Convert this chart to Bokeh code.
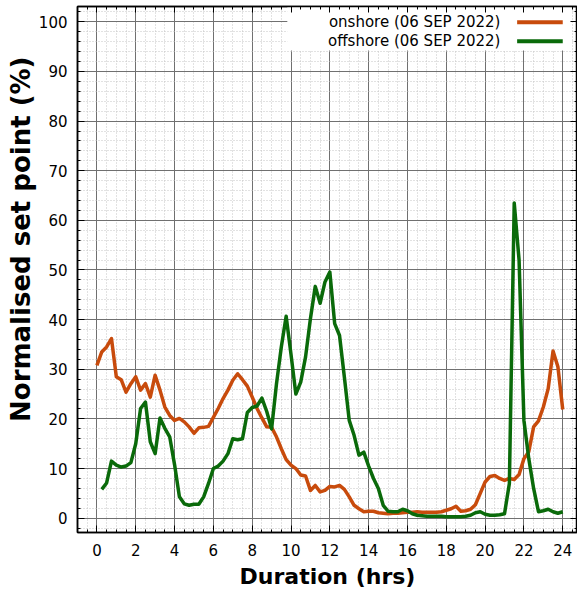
from bokeh.plotting import figure
from bokeh.models import (Range1d, LinearAxis, SingleIntervalTicker, FixedTicker,
                          BoxAnnotation, Label, Arrow, Title)
from bokeh.embed import file_html
from bokeh.resources import INLINE

# ---------------- data ----------------
STEP_HRS = 0.25
ONSHORE_START = 0.0
OFFSHORE_START = 0.25

onshore = [
    30.8, 33.5, 34.5, 36.2,
    28.5, 27.9, 25.4, 27.1,
    28.5, 25.8, 27.1, 24.4,
    28.8, 25.8, 22.4, 20.7,
    19.7, 20.1, 19.4, 18.4,
    17.1, 18.2, 18.3, 18.5,
    20.3, 22.1, 24.1, 25.8,
    27.8, 29.1, 27.9, 26.6,
    24.4, 22.1, 20.2, 18.4,
    18.3, 16.4, 14.0, 11.8,
    10.7, 10.0, 8.7, 8.5,
    5.6, 6.6, 5.3, 5.6,
    6.4, 6.3, 6.6, 5.8,
    4.3, 2.6, 1.9, 1.3,
    1.4, 1.4, 1.1, 1.0,
    0.9, 1.0, 1.0, 1.1,
    1.2, 1.2, 1.3, 1.2,
    1.2, 1.2, 1.2, 1.3,
    1.6, 1.9, 2.4, 1.4,
    1.5, 1.8, 2.7, 5.0,
    7.3, 8.4, 8.6, 8.0,
    7.6, 8.0, 7.8, 8.8,
    12.0, 13.4, 18.4, 19.6,
    22.4, 26.1, 33.7, 30.5,
    21.9,
]

offshore = [
    5.8, 7.1, 11.5,
    10.7, 10.3, 10.5, 11.2,
    15.0, 22.1, 23.4, 15.4,
    13.0, 20.2, 18.1, 16.4,
    10.8, 4.3, 2.9, 2.6,
    2.8, 2.8, 4.3, 7.0,
    10.0, 10.5, 11.5, 13.0,
    16.0, 15.8, 16.0, 21.3,
    22.3, 22.6, 24.2, 21.5,
    18.0, 27.0, 34.5, 40.7,
    33.0, 25.0, 27.4, 32.5,
    40.2, 46.7, 43.3, 47.6,
    49.6, 39.2, 36.8, 28.4,
    19.7, 16.7, 12.7, 13.3,
    10.5, 8.0, 6.0, 2.6,
    1.4, 1.3, 1.3, 1.8,
    1.5, 0.9, 0.6, 0.5,
    0.4, 0.4, 0.4, 0.4,
    0.3, 0.3, 0.3, 0.3,
    0.4, 0.6, 1.1, 1.3,
    0.8, 0.6, 0.6, 0.7,
    0.9, 7.0, 63.5, 52.0,
    19.7, 12.0, 6.0, 1.3,
    1.5, 1.8, 1.3, 1.0,
    1.3,
]

series_labels = ["onshore (06 SEP 2022)", "offshore (06 SEP 2022)"]
series_colors = ["#c84b0c", "#0a6a0a"]
x_title = "Duration (hrs)"
y_title = "Normalised set point (%)"

on_x = [ONSHORE_START + i * STEP_HRS for i in range(len(onshore))]
off_x = [OFFSHORE_START + i * STEP_HRS for i in range(len(offshore))]

X_MIN, X_MAX = -1.0, 24.76
Y_MIN, Y_MAX = -2.88, 103.08
X_MAJOR, X_MINOR = 2, 0.5
Y_MAJOR, Y_MINOR = 10, 2

FONT = "DejaVu Sans"

p = figure(width=577, height=593, output_backend="svg", toolbar_location=None,
           x_range=Range1d(X_MIN, X_MAX), y_range=Range1d(Y_MIN, Y_MAX),
           min_border_left=77, min_border_right=0, min_border_top=6, min_border_bottom=61)
p.background_fill_color = "white"
p.border_fill_color = "white"
p.outline_line_color = "black"
p.outline_line_width = 1.5

# axes
xt = SingleIntervalTicker(interval=X_MAJOR, num_minor_ticks=int(X_MAJOR / X_MINOR))
yt = SingleIntervalTicker(interval=Y_MAJOR, num_minor_ticks=int(Y_MAJOR / Y_MINOR))
p.xaxis.ticker = xt
p.yaxis.ticker = yt
p.xgrid.ticker = xt
p.ygrid.ticker = yt

for ax in (p.xaxis[0], p.yaxis[0]):
    ax.major_tick_in = 7
    ax.major_tick_out = 0
    ax.minor_tick_in = 3
    ax.minor_tick_out = 0
    ax.axis_line_color = "black"
    ax.axis_line_width = 1.5
    ax.major_tick_line_color = "black"
    ax.minor_tick_line_color = "black"
    ax.major_label_text_font = FONT
    ax.major_label_text_font_size = "15px"
    ax.major_label_text_color = "black"
    ax.axis_label_text_font = FONT
    ax.axis_label_text_font_style = "bold"
    ax.axis_label_text_color = "black"

p.xaxis.axis_label = x_title
p.xaxis.axis_label_text_font_size = "22px"
p.xaxis.major_label_standoff = 11
p.xaxis.axis_label_standoff = 5
p.yaxis.major_label_standoff = 10

# y-axis title as a side-panel title, placed toward the top like the reference
ytitle = Title(text=y_title, align="right", offset=50, standoff=0,
               text_font=FONT, text_font_style="bold", text_font_size="26px",
               text_color="black")
p.add_layout(ytitle, "left")

# mirrored tick marks (no labels) on top and right
x_major_pos = [X_MAJOR * k for k in range(-1, 14)]
x_minor_pos = [X_MINOR * k for k in range(-2, 51)]
y_major_pos = [Y_MAJOR * k for k in range(0, 11)]
y_minor_pos = [Y_MINOR * k for k in range(-1, 52)]

top_minor = LinearAxis(ticker=FixedTicker(ticks=[], minor_ticks=x_minor_pos),
                       minor_tick_in=3, minor_tick_out=0, major_tick_in=0, major_tick_out=0,
                       axis_line_color="black", axis_line_width=1.5,
                       minor_tick_line_color="black")
top_major = LinearAxis(ticker=FixedTicker(ticks=[], minor_ticks=x_major_pos),
                       minor_tick_in=6, minor_tick_out=0, major_tick_in=0, major_tick_out=0,
                       axis_line_color=None, minor_tick_line_color="black")
right_minor = LinearAxis(ticker=FixedTicker(ticks=[], minor_ticks=y_minor_pos),
                         minor_tick_in=3, minor_tick_out=0, major_tick_in=0, major_tick_out=0,
                         axis_line_color="black", axis_line_width=1.5,
                         minor_tick_line_color="black")
right_major = LinearAxis(ticker=FixedTicker(ticks=[], minor_ticks=y_major_pos),
                         minor_tick_in=7, minor_tick_out=0, major_tick_in=0, major_tick_out=0,
                         axis_line_color=None, minor_tick_line_color="black")
p.add_layout(top_minor, "above")
p.add_layout(top_major, "above")
p.add_layout(right_minor, "right")
p.add_layout(right_major, "right")

# grids
for g in (p.xgrid[0], p.ygrid[0]):
    g.grid_line_color = "#707070"
    g.grid_line_width = 1
    g.minor_grid_line_color = "#c4c4c4"
    g.minor_grid_line_dash = "1 2"
    g.minor_grid_line_width = 1

# legend background box (hides grid)
LEG_LEFT, LEG_RIGHT, LEG_BOTTOM = 9.81, 24.47, 94.2
box = BoxAnnotation(left=LEG_LEFT, right=LEG_RIGHT, bottom=LEG_BOTTOM, top=Y_MAX,
                    fill_color="white", fill_alpha=1.0, line_color=None, level="underlay")
p.add_layout(box)

# data lines
p.line(on_x, onshore, line_color=series_colors[0], line_width=3.5, line_join="round")
p.line(off_x, offshore, line_color=series_colors[1], line_width=3.5, line_join="round")

# custom legend: label then sample line
LEG_TEXT_X = 20.79
LEG_LINE_X0, LEG_LINE_X1 = 21.65, 24.0
LEG_ROWS_Y = [99.9, 96.1]
for lab, col, yy in zip(series_labels, series_colors, LEG_ROWS_Y):
    p.add_layout(Label(x=LEG_TEXT_X, y=yy, text=lab, text_align="right", text_baseline="middle",
                       text_font=FONT, text_font_size="15px", text_color="black"))
    p.add_layout(Arrow(start=None, end=None, x_start=LEG_LINE_X0, y_start=yy, x_end=LEG_LINE_X1,
                       y_end=yy, line_color=col, line_width=4))

open("out.html", "w").write(file_html(p, INLINE))
